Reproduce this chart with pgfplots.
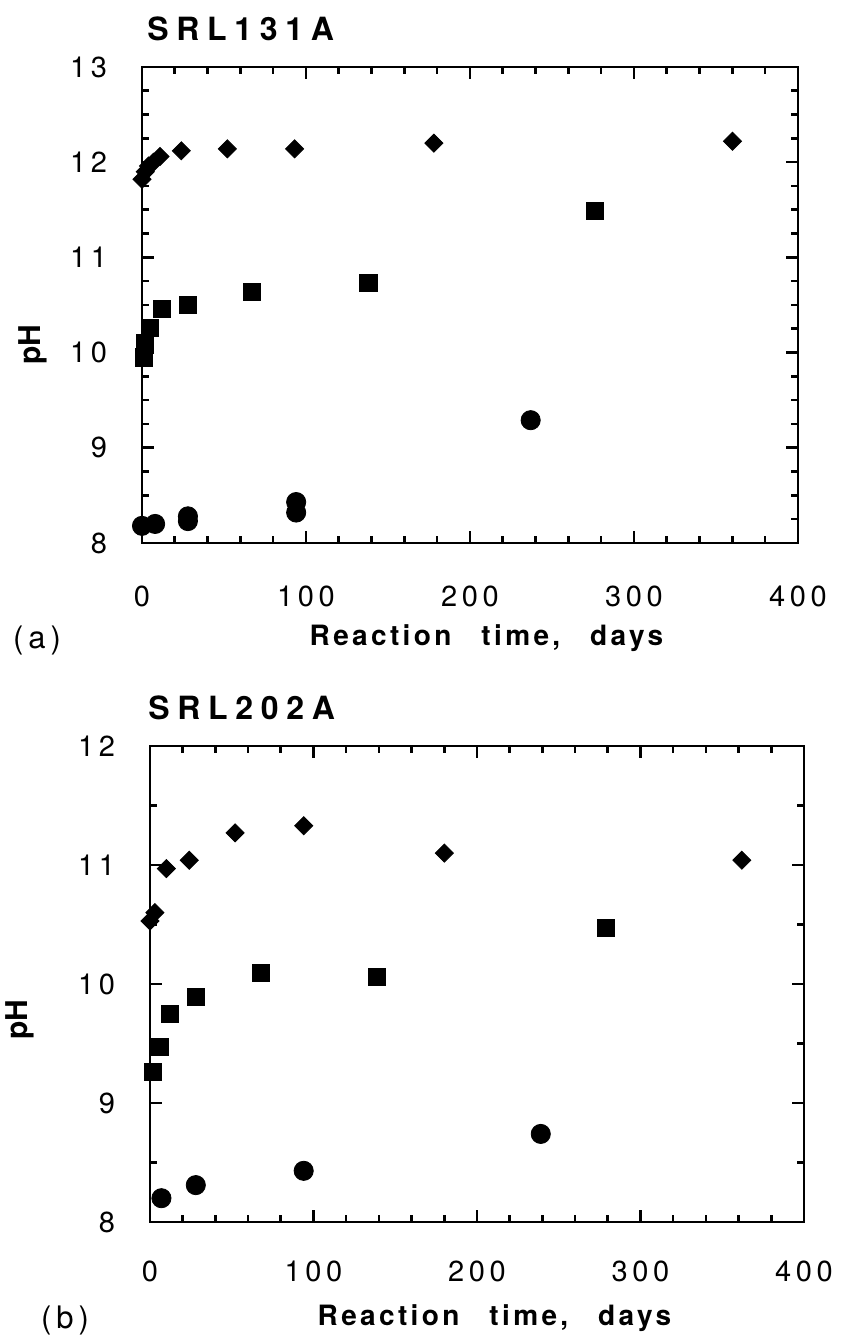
\documentclass[border=0pt]{standalone}
\usepackage{pgfplots}
\pgfplotsset{compat=1.18}
\usepackage{fontspec}
\setmainfont{TeX Gyre Heros}
\newfontfamily\tickf[LetterSpace=16]{TeX Gyre Heros}
\newfontfamily\titlef[LetterSpace=24]{TeX Gyre Heros}
\newfontfamily\labf[LetterSpace=12]{TeX Gyre Heros}
\pgfplotsset{
  phstyle/.style={
    scale only axis,
    xmin=0, xmax=400,
    xtick={0,100,200,300,400},
    minor x tick num=4,
    tick align=inside,
    xtick pos=both, ytick pos=both,
    major tick length=6pt, minor tick length=3.5pt,
    axis line style={line width=1.4pt},
    every tick/.append style={line width=1.3pt, black},
    tick label style={font=\tickf\fontsize{14.5}{16}\selectfont},
    yticklabel={\tickf\pgfmathprintnumber[assume math mode=true]{\tick}\hspace*{14pt}},
    xticklabel={\tickf\pgfmathprintnumber[assume math mode=true]{\tick}},
    clip=false,
  },
  dia/.style={only marks, mark=square*, mark size=3.2pt, mark options={rotate=45, fill=black, draw=black}},
  sq/.style={only marks, mark=square*, mark size=4.3pt, mark options={fill=black, draw=black}},
  cir/.style={only marks, mark=*, mark size=4.8pt, mark options={fill=black, draw=black}},
}
\begin{document}
\begin{tikzpicture}
\path[use as bounding box] (0,0) rectangle (421.5pt,670pt);

% ---------- (a) SRL131A ----------
\begin{axis}[phstyle,
  at={(71pt,398.5pt)}, anchor=south west,
  width=328pt, height=238pt,
  xticklabel style={yshift=-18pt},
  ymin=8, ymax=13, ytick={8,9,10,11,12,13}, minor y tick num=3]
\addplot[dia] coordinates {(0,11.82) (2,11.9) (4,11.96) (7,12.0) (11,12.06) (24,12.12) (52,12.14) (93,12.14) (178,12.2) (360,12.22)};
\addplot[sq] coordinates {(1,9.95) (2,10.1) (5,10.26) (12,10.46) (28,10.5) (67,10.64) (138,10.73) (276,11.49)};
\addplot[cir] coordinates {(0,8.18) (8,8.2) (28,8.23) (28,8.28) (94,8.32) (94,8.43) (237,9.29)};
\end{axis}

% ---------- (b) SRL202A ----------
\begin{axis}[phstyle,
  at={(75pt,59pt)}, anchor=south west,
  width=327pt, height=238pt,
  xticklabel style={yshift=-16pt},
  ymin=8, ymax=12, ytick={8,9,10,11,12}, minor y tick num=1]
\addplot[dia] coordinates {(0,10.53) (3,10.6) (10,10.97) (24,11.04) (52,11.27) (94,11.33) (180,11.1) (362,11.04)};
\addplot[sq] coordinates {(2,9.26) (6,9.47) (12,9.75) (28,9.89) (68,10.09) (139,10.06) (279,10.47)};
\addplot[cir] coordinates {(7,8.2) (28,8.31) (94,8.43) (239,8.74)};
\end{axis}

% ---------- texts ----------
\node[anchor=west, inner sep=0pt] at (73.5pt,655.5pt) {\titlef\bfseries\fontsize{16}{18}\selectfont SRL131A};
\node[anchor=west, inner sep=0pt] at (74pt,316pt) {\titlef\bfseries\fontsize{16}{18}\selectfont SRL202A};

\node[rotate=90, inner sep=0pt] at (16.5pt,497.5pt) {\bfseries\fontsize{15}{17}\selectfont pH};
\node[rotate=90, inner sep=0pt] at (10pt,160pt) {\bfseries\fontsize{15}{17}\selectfont pH};

\node[inner sep=0pt] at (243.25pt,351pt) {\labf\bfseries\fontsize{14}{16}\selectfont Reaction\hspace{15pt}time,\hspace{15pt}days};
\node[inner sep=0pt] at (247.25pt,11pt) {\labf\bfseries\fontsize{14}{16}\selectfont Reaction\hspace{15pt}time,\hspace{15pt}days};

\node[inner sep=0pt] at (18.5pt,350pt) {\tickf\fontsize{15.5}{17}\selectfont (a)};
\node[inner sep=0pt] at (32.5pt,10pt) {\tickf\fontsize{15.5}{17}\selectfont (b)};
\end{tikzpicture}
\end{document}
